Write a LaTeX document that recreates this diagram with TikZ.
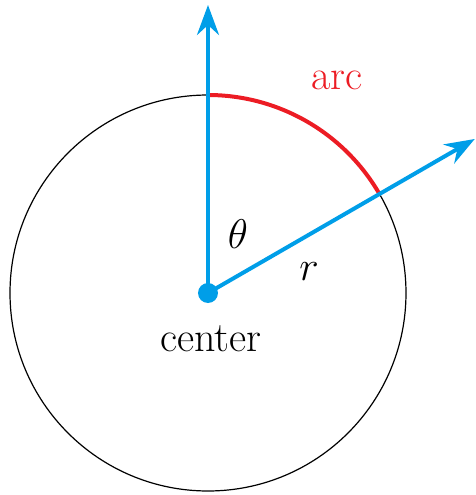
\documentclass[tikz,border=0pt]{standalone}
\usepackage{amsmath,amssymb}
\usetikzlibrary{arrows.meta,positioning,calc}
\definecolor{rayblue}{RGB}{0,158,232}
\definecolor{arcred}{RGB}{236,28,36}

\begin{document}
\begin{tikzpicture}[x=0.5pt,y=0.5pt,
    ray/.style={line width=2pt, rayblue, -{Stealth[length=15pt,width=11pt,inset=5pt]}},
    lbl/.style={anchor=base, font=\fontsize{21}{24}\selectfont}]
    \useasboundingbox (0,0) rectangle (476,495);
    % circle
    \node[circle, fill=rayblue, inner sep=0pt, minimum size=10pt] (ctr) at (208,202) {};
    \draw[line width=0.6pt] (ctr.center) circle[radius=198];
    % arc
    \draw[line width=2pt, arcred] ($(ctr.center)+(90:198)$) arc[start angle=90, end angle=30, radius=198];
    \node[lbl, arcred] (arclbl) at (337,406) {arc};
    % rays
    \coordinate (top) at (208,490);
    \coordinate (side) at ($(ctr.center)+(30:308)$);
    \draw[ray] (ctr.center) -- (top);
    \draw[ray] (ctr.center) -- (side);
    % labels
    \node[lbl] (th) at (238,247) {$\theta$};
    \node[lbl] (rr) at (309,215) {$r$};
    \node[lbl] (ctrlbl) at (211,144) {center};
\end{tikzpicture}
\end{document}
